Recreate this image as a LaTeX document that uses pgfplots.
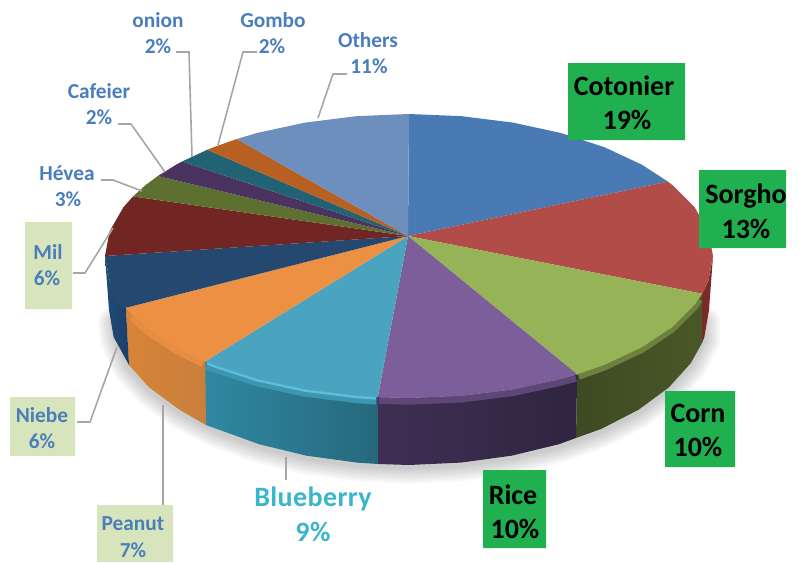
\documentclass[border=0pt]{standalone}
\usepackage{fontspec}
\setmainfont{Carlito}[BoldFont={Carlito Bold}]
\newfontfamily\bb{Carlito Bold}[LetterSpace=1.5]
\usepackage{pgfplots}
\pgfplotsset{compat=1.18}
\definecolor{lblue}{HTML}{4A7EBB}
\definecolor{lead}{HTML}{A6A6A6}
\definecolor{gbox}{HTML}{21B04F}
\definecolor{pbox}{HTML}{D8E4BC}
\definecolor{cOth}{HTML}{6D8FBD}
\definecolor{cCot}{HTML}{4A7AB3}
\definecolor{cSor}{HTML}{B14C48}
\definecolor{cCor}{HTML}{97B358}
\definecolor{cRic}{HTML}{7C5F9A}
\definecolor{cBlu}{HTML}{4AA3BF}
\definecolor{cPea}{HTML}{EC9143}
\definecolor{cNie}{HTML}{24486F}
\definecolor{cMil}{HTML}{722624}
\definecolor{cHev}{HTML}{5D7030}
\definecolor{cCaf}{HTML}{4A345F}
\definecolor{cOni}{HTML}{216375}
\definecolor{cGom}{HTML}{B85F22}
\definecolor{sSorA}{HTML}{7A2B29}
\definecolor{sCorA}{HTML}{3E4A22}
\definecolor{sCorB}{HTML}{4A5728}
\definecolor{sRicA}{HTML}{3F2F54}
\definecolor{sRicB}{HTML}{2F2540}
\definecolor{sBluA}{HTML}{2F88A2}
\definecolor{sBluB}{HTML}{26687C}
\definecolor{sPeaA}{HTML}{D68438}
\definecolor{sPeaB}{HTML}{C97F3C}
\definecolor{sNieA}{HTML}{1D4068}
\definecolor{sNieB}{HTML}{1F4A75}
\definecolor{hBlu}{HTML}{5CBFDB}
\newcommand{\smlab}[3]{\node[text=lblue,font=\fontsize{16pt}{18pt}\selectfont\bfseries,inner sep=0pt,anchor=center] at (axis cs:#1,#2) {#3};}
\newcommand{\lglab}[3]{\node[text=black,font=\fontsize{21pt}{23pt}\selectfont\bfseries,inner sep=0pt,anchor=center] at (axis cs:#1,#2) {#3};}
\begin{document}
\begin{tikzpicture}
\begin{axis}[
  scale only axis, width=600.75pt, height=421.5pt,
  xmin=0, xmax=801, ymin=0, ymax=562, y dir=reverse,
  axis line style={draw=none}, ticks=none, clip=true,
]
% soft shadow
\pgfplotsinvokeforeach{3,6,9,12,15,18,21,24}{
\addplot[draw=black, opacity=0.028, line width=#1pt, line join=round, line cap=round, yshift=-2pt]
 coordinates {(704.4,320)(704.4,336.9)(690.9,363)(668.8,387.5)(638.8,409.6)(601.8,428.7)(559,444.2)(511.6,455.7)(461.1,462.6)(409,465)(356.9,462.6)(306.4,455.7)(259,444.2)(216.2,428.7)(179.2,409.6)(149.2,387.5)(127.1,363)(116,336.9)(114,320)};
}
% side walls
\addplot[draw=none,fill=sSorA] coordinates {(713,256)(708.4,280.7)(702.1,293.7)(702,343)(704.4,336.9)(709,310)(713,256)};
\addplot[draw=none,left color=sCorA,right color=sCorB] coordinates {(702.1,293.7)(694.7,304.6)(672.3,327)(641.9,347.3)(604.4,364.8)(577.2,374.3)(576,438)(601.8,428.7)(638.8,409.6)(668.8,387.5)(690.9,363)(702,343)(702.1,293.7)};
\addplot[draw=none,left color=sRicA,right color=sRicB] coordinates {(577.2,374.3)(561,379)(513,389.4)(461.8,395.8)(409,398)(377.7,397.2)(378,464)(409,465)(461.1,462.6)(511.6,455.7)(559,444.2)(576,438)(577.2,374.3)};
\addplot[draw=none,left color=sBluA,right color=sBluB] coordinates {(377.7,397.2)(356.2,395.8)(305,389.4)(257,379)(213.6,364.8)(205.2,361.4)(206,425)(216.2,428.7)(259,444.2)(306.4,455.7)(356.9,462.6)(378,464)(377.7,397.2)};
\addplot[draw=none,left color=sPeaA,right color=sPeaB] coordinates {(205.2,361.4)(176.1,347.3)(145.7,327)(125.9,307.8)(129,365)(149.2,387.5)(179.2,409.6)(206,425)(205.2,361.4)};
\addplot[draw=none,left color=sNieB,right color=sNieA] coordinates {(125.9,307.8)(123.3,304.6)(109.6,280.7)(105,256)(109,310)(113.6,336.9)(129,365)(125.9,307.8)};
% bevel under the rim
\addplot[draw=sCorB!55!cCor,line width=4.5pt,line cap=butt,yshift=-2pt] coordinates {(700,297)(694.7,304.6)(672.3,327)(641.9,347.3)(604.4,364.8)(579,374)};
\addplot[draw=sRicA!50!cRic,line width=5pt,line cap=butt,yshift=-2.5pt] coordinates {(576,375)(561,379)(513,389.4)(461.8,395.8)(409,398)(379,397.2)};
\addplot[draw=sBluA!50!cBlu,line width=5pt,line cap=butt,yshift=-3pt] coordinates {(376,397.2)(356.2,395.8)(305,389.4)(257,379)(213.6,364.8)(207,362)};
\addplot[draw=hBlu,line width=2pt,line cap=butt,yshift=-0.8pt] coordinates {(376,397.2)(356.2,395.8)(305,389.4)(257,379)(213.6,364.8)(207,362)};
\addplot[draw=cPea!70!sPeaA,line width=5pt,line cap=butt,yshift=-2.5pt] coordinates {(203,360.5)(176.1,347.3)(145.7,327)(132,314)};
\addplot[draw=cNie!70!sNieB,line width=4pt,line cap=butt,yshift=-2pt] coordinates {(123.3,304.6)(109.6,280.7)};
% top faces
\addplot[draw=none,fill=cCot] coordinates {(408,236)(409,114)(461.8,116.2)(513,122.6)(561,133)(604.4,147.2)(641.9,164.7)(667.9,181.6)(408,236)};
\addplot[draw=none,fill=cSor] coordinates {(408,236)(667.9,181.6)(672.3,185)(694.7,207.4)(708.4,231.3)(713,256)(708.4,280.7)(702.1,293.7)(408,236)};
\addplot[draw=none,fill=cCor] coordinates {(408,236)(702.1,293.7)(694.7,304.6)(672.3,327)(641.9,347.3)(604.4,364.8)(577.2,374.3)(408,236)};
\addplot[draw=none,fill=cRic] coordinates {(408,236)(577.2,374.3)(561,379)(513,389.4)(461.8,395.8)(409,398)(377.7,397.2)(408,236)};
\addplot[draw=none,fill=cBlu] coordinates {(408,236)(377.7,397.2)(356.2,395.8)(305,389.4)(257,379)(213.6,364.8)(205.2,361.4)(408,236)};
\addplot[draw=none,fill=cPea] coordinates {(408,236)(205.2,361.4)(176.1,347.3)(145.7,327)(125.9,307.8)(408,236)};
\addplot[draw=none,fill=cNie] coordinates {(408,236)(125.9,307.8)(123.3,304.6)(109.6,280.7)(105,256)(408,236)};
\addplot[draw=none,fill=cMil] coordinates {(408,236)(105,256)(109.6,231.3)(123.3,207.4)(133,196.4)(408,236)};
\addplot[draw=none,fill=cHev] coordinates {(408,236)(133,196.4)(145.7,185)(157.9,176)(408,236)};
\addplot[draw=none,fill=cCaf] coordinates {(408,236)(157.9,176)(176.1,164.7)(182,161.5)(408,236)};
\addplot[draw=none,fill=cOni] coordinates {(408,236)(182,161.5)(207.2,149.8)(408,236)};
\addplot[draw=none,fill=cGom] coordinates {(408,236)(207.2,149.8)(213.6,147.2)(236.8,139)(408,236)};
\addplot[draw=none,fill=cOth] coordinates {(408,236)(236.8,139)(257,133)(305,122.6)(356.2,116.2)(409,114)(408,236)};
% leader lines
\addplot[draw=lead,line width=1.2pt] coordinates {(318,118)(333,74)(347,74)};
\addplot[draw=lead,line width=1.2pt] coordinates {(218,145)(243,52)(257,52)};
\addplot[draw=lead,line width=1.2pt] coordinates {(192,157)(189,52)(176,52)};
\addplot[draw=lead,line width=1.2pt] coordinates {(165,172)(131,124)(118,124)};
\addplot[draw=lead,line width=1.2pt] coordinates {(142,191)(113,180)(101,180)};
\addplot[draw=lead,line width=1.2pt] coordinates {(113,228)(85,273)(73,273)};
\addplot[draw=lead,line width=1.2pt] coordinates {(117,347)(90,422)(77,422)};
\addplot[draw=lead,line width=1.2pt] coordinates {(163,405)(163,505)};
\addplot[draw=lead,line width=1.2pt] coordinates {(286,457)(286,480)};
% label boxes
\addplot[draw=none,fill=gbox] coordinates {(568,63)(685,63)(685,140)(568,140)(568,63)};
\addplot[draw=none,fill=gbox] coordinates {(699,170)(786,170)(786,248)(699,248)(699,170)};
\addplot[draw=none,fill=gbox] coordinates {(665,391)(735,391)(735,467)(665,467)(665,391)};
\addplot[draw=none,fill=gbox] coordinates {(483,470)(546,470)(546,548)(483,548)(483,470)};
\addplot[draw=none,fill=pbox] coordinates {(25,222)(72,222)(72,309)(25,309)(25,222)};
\addplot[draw=none,fill=pbox] coordinates {(10,397)(75,397)(75,456)(10,456)(10,397)};
\addplot[draw=none,fill=pbox] coordinates {(97,505)(173,505)(173,562)(97,562)(97,505)};
% labels
\lglab{624}{86}{Cotonier}
\lglab{627}{120}{19\%}
\lglab{746}{196}{Sorgho}
\lglab{746}{229}{13\%}
\lglab{698}{413}{Corn}
\lglab{698}{447}{10\%}
\lglab{513}{495}{Rice}
\lglab{515}{529}{10\%}
\smlab{158}{20}{onion}
\smlab{158}{46}{2\%}
\smlab{273}{20}{Gombo}
\smlab{272}{46}{2\%}
\smlab{368}{40}{Others}
\smlab{369}{66}{11\%}
\smlab{99}{91}{Cafeier}
\smlab{99}{117}{2\%}
\smlab{67}{173}{Hévea}
\smlab{68}{199}{3\%}
\smlab{48}{252}{Mil}
\smlab{47}{278}{6\%}
\smlab{42}{415}{Niebe}
\smlab{42}{441}{6\%}
\smlab{133}{524}{Peanut}
\smlab{133}{550}{7\%}
\node[text=cBlu!80!cyan,font=\fontsize{21pt}{23pt}\selectfont\bb,inner sep=0pt,anchor=center] at (axis cs:313,499) {Blueberry};
\node[text=cBlu!80!cyan,font=\fontsize{21pt}{23pt}\selectfont\bb,inner sep=0pt,anchor=center] at (axis cs:313,532) {9\%};
\end{axis}
\end{tikzpicture}
\end{document}
